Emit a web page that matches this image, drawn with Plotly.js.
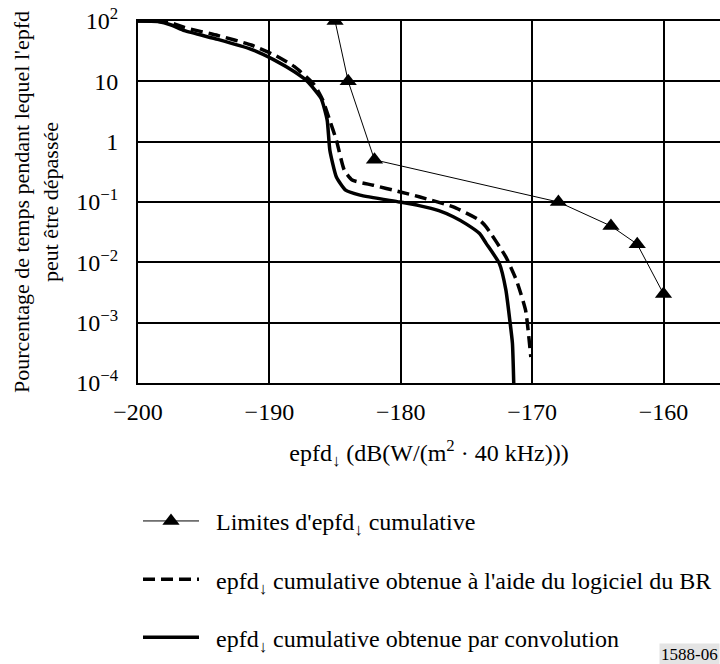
<!DOCTYPE html>
<html>
<head>
<meta charset="utf-8">
<script src="https://cdn.plot.ly/plotly-3.0.1.min.js"></script>
<style>html,body{margin:0;padding:0;background:#fff;}#chart{width:720px;height:664px;}</style>
</head>
<body>
<div id="chart"></div>
<script>
// Limits (triangles)
const limitX = [-185, -184, -182, -168, -164, -162, -160];
const limitY = [100, 10, 0.5, 0.1, 0.04, 0.02, 0.003];

// BR software (dashed)
const brX = [-200, -198.5, -197.45, -196.46, -193.93, -191.38, -189.61, -188.09, -186.57, -185.94, -185.4, -184.9, -184.3, -183.7, -182.1, -180.1, -178.6, -176.0, -174.0, -173.5, -172.0, -171.2, -170.5, -170.1];
const brY = [100, 99, 92.7, 78, 57.5, 40, 27.3, 17.5, 8.69, 4.9, 2.24, 1.06, 0.338, 0.231, 0.19, 0.148, 0.122, 0.083, 0.05, 0.0388, 0.0123, 0.00507, 0.00161, 0.00027];

// Convolution (solid)
const convX = [-200, -198.5, -197.47, -196.46, -193.93, -191.38, -189.61, -188.09, -187.08, -186.06, -185.6, -185.4, -184.9, -184.2, -183.1, -180.1, -178.6, -177.1, -176.0, -175.0, -174.0, -173.5, -172.5, -172.0, -171.7, -171.5, -171.4];
const convY = [100, 98, 85.9, 69, 49.7, 34, 22.5, 14.4, 9.85, 5.2, 2.28, 0.73, 0.26, 0.157, 0.13, 0.10, 0.087, 0.072, 0.057, 0.043, 0.030, 0.0206, 0.0096, 0.0035, 0.0011, 0.00046, 0.0001];

const yTickVals = [1e-4, 1e-3, 1e-2, 1e-1, 1, 10, 100];
const yTickText = ['10<sup>−4</sup>', '10<sup>−3</sup>', '10<sup>−2</sup>', '10<sup>−1</sup>', '1', '10', '10<sup>2</sup>'];

const DOWN = '↓\uFE0E';
const pad = '\u00a0\u00a0';
const legendNames = [
  pad + "Limites d'epfd<sub>" + DOWN + "</sub> cumulative",
  pad + "epfd<sub>" + DOWN + "</sub> cumulative obtenue à l'aide du logiciel du BR",
  pad + "epfd<sub>" + DOWN + "</sub> cumulative obtenue par convolution"
];
const xTitle = 'epfd<sub>' + DOWN + '</sub> (dB(W/(m<sup>2</sup> · 40 kHz)))';
const yTitle = "Pourcentage de temps pendant lequel l'epfd<br>peut être dépassée";

const FONT = 'Liberation Serif, DejaVu Serif, serif';

const traces = [
  {x: limitX, y: limitY, type: 'scatter', mode: 'lines+markers', name: legendNames[0], legendgroup: 'a',
   line: {color: '#000', width: 1}, marker: {symbol: 'triangle-up', size: 15, color: '#000'}},
  {x: brX, y: brY, type: 'scatter', mode: 'lines', name: legendNames[1], legendgroup: 'b',
   line: {color: '#000', width: 3.5, dash: '12px,6px', shape: 'spline', smoothing: 0.5}},
  {x: convX, y: convY, type: 'scatter', mode: 'lines', name: legendNames[2], legendgroup: 'c',
   line: {color: '#000', width: 3.5, shape: 'spline', smoothing: 0.5}}
];

const layout = {
  width: 720, height: 664,
  margin: {l: 138, r: 0, t: 21, b: 281},
  paper_bgcolor: '#fff', plot_bgcolor: '#fff',
  font: {family: FONT, size: 24, color: '#000'},
  showlegend: true,
  legend: {x: 0, xanchor: 'left', y: -0.32, yanchor: 'top', orientation: 'v',
    itemwidth: 56, tracegroupgap: 24, font: {family: FONT, size: 24, color: '#000'},
    bgcolor: 'rgba(0,0,0,0)'},
  xaxis: {
    type: 'linear', range: [-200, -155.7], dtick: 10, tick0: -200,
    showgrid: true, gridcolor: '#000', gridwidth: 2,
    showline: true, linecolor: '#000', linewidth: 2, mirror: true,
    zeroline: false, ticks: '', ticklabelstandoff: 6,
    tickfont: {family: FONT, size: 24, color: '#000'},
    title: {text: xTitle, font: {family: FONT, size: 24, color: '#000'}, standoff: 20}
  },
  yaxis: {
    type: 'log', range: [-4, 2], tickvals: yTickVals, ticktext: yTickText,
    showgrid: true, gridcolor: '#000', gridwidth: 2,
    showline: true, linecolor: '#000', linewidth: 2, mirror: true,
    zeroline: false, ticks: '', ticklabelstandoff: 13,
    tickfont: {family: FONT, size: 24, color: '#000'},
    title: {text: yTitle, font: {family: FONT, size: 22, color: '#000'}, standoff: 12}
  },
  annotations: [
    {xref: 'paper', yref: 'paper', x: 1, xanchor: 'right', y: -0.75, yanchor: 'middle',
     text: '1588-06', showarrow: false, bgcolor: '#e4e4e4', font: {family: FONT, size: 17, color: '#000'}, borderpad: 1}
  ]
};

Plotly.newPlot('chart', traces, layout, {displayModeBar: false, staticPlot: true});
</script>
</body>
</html>
